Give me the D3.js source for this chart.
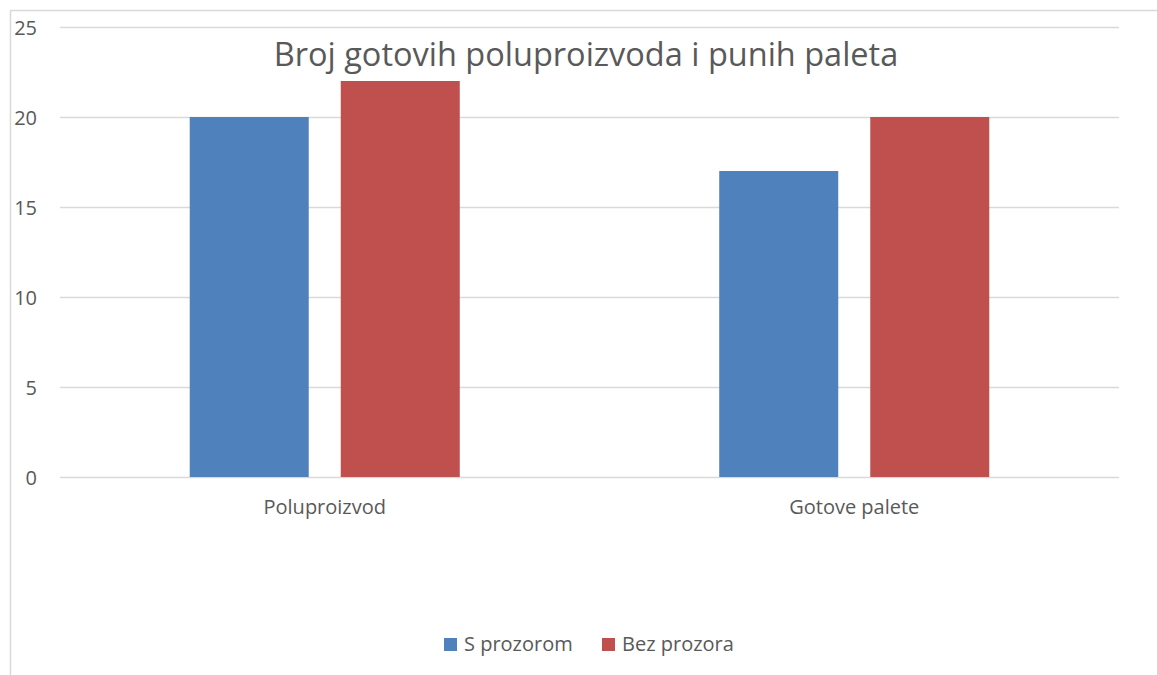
<!DOCTYPE html>
<html>
<head>
<meta charset="utf-8">
<script src="https://cdn.jsdelivr.net/npm/d3@7"></script>
<style>
  body { margin: 0; background: #fff; }
  text { font-family: "Open Sans", "Noto Sans", sans-serif; fill: #595959; }
</style>
</head>
<body>
<div id="chart"></div>
<script>
// data
const categories = ["Poluproizvod", "Gotove palete"]
const seriesNames = ["S prozorom", "Bez prozora"]
const sProzorom = [20, 17]
const bezProzora = [22, 20]
const yTicks = [0, 5, 10, 15, 20, 25]
const title = "Broj gotovih poluproizvoda i punih paleta"

const WIDTH = 1157
const HEIGHT = 675
const PLOT_LEFT = 60
const PLOT_RIGHT = 1119
const PLOT_TOP = 27
const PLOT_BOTTOM = 477
const COLORS = ["#4F81BD", "#C0504D"]
const GRID = "#D9D9D9"

const svg = d3.select("#chart").append("svg")
    .attr("width", WIDTH)
    .attr("height", HEIGHT)

// chart border (left and top visible in crop)
svg.append("rect")
    .attr("x", 10.5).attr("y", 10.5)
    .attr("width", WIDTH + 20).attr("height", HEIGHT + 20)
    .attr("fill", "none")
    .attr("stroke", GRID)
    .attr("stroke-width", 1.5)

const y = d3.scaleLinear()
    .domain([0, 25])
    .range([PLOT_BOTTOM, PLOT_TOP])

const x0 = d3.scaleBand()
    .domain(categories)
    .range([PLOT_LEFT, PLOT_RIGHT])
    .paddingInner(0.49)
    .paddingOuter(0.245)

const x1 = d3.scaleBand()
    .domain(seriesNames)
    .range([0, x0.bandwidth()])
    .paddingInner(0.212)
    .paddingOuter(0)

// gridlines
svg.append("g")
    .selectAll("line")
    .data(yTicks)
    .join("line")
    .attr("x1", PLOT_LEFT)
    .attr("x2", PLOT_RIGHT)
    .attr("y1", d => Math.round(y(d)) + 0.5)
    .attr("y2", d => Math.round(y(d)) + 0.5)
    .attr("stroke", GRID)
    .attr("stroke-width", 1.5)

// y axis labels
const yAxis = svg.append("g")
    .attr("transform", `translate(37,0)`)
    .call(d3.axisLeft(y).tickValues(yTicks).tickSize(0).tickPadding(0))
yAxis.select(".domain").remove()
yAxis.selectAll("text")
    .style("font-size", "20px")
    .attr("fill", "#595959")
    .attr("dy", "0.35em")

// bars
const rows = categories.map((c, i) => ({cat: c, vals: [sProzorom[i], bezProzora[i]]}))

svg.append("g")
    .selectAll("g")
    .data(rows)
    .join("g")
    .attr("transform", d => `translate(${x0(d.cat)},0)`)
    .selectAll("rect")
    .data(d => d.vals.map((v, j) => ({key: seriesNames[j], value: v, idx: j})))
    .join("rect")
    .attr("x", d => x1(d.key))
    .attr("y", d => y(d.value))
    .attr("width", x1.bandwidth())
    .attr("height", d => y(0) - y(d.value))
    .attr("fill", d => COLORS[d.idx])

// x axis labels
const xAxis = svg.append("g")
    .attr("transform", `translate(0,${PLOT_BOTTOM})`)
    .call(d3.axisBottom(x0).tickSize(0).tickPadding(23))
xAxis.select(".domain").remove()
xAxis.selectAll("text")
    .style("font-size", "20px")
    .attr("fill", "#595959")

// title
svg.append("text")
    .attr("x", 586)
    .attr("y", 66)
    .attr("text-anchor", "middle")
    .style("font-size", "32.5px")
    .text(title)

// legend
const legendX = [444, 602]
const legend = svg.append("g")
    .selectAll("g")
    .data(seriesNames)
    .join("g")
    .attr("transform", (d, i) => `translate(${legendX[i]},638)`)
legend.append("rect")
    .attr("width", 13).attr("height", 13)
    .attr("fill", (d, i) => COLORS[i])
legend.append("text")
    .attr("x", 20)
    .attr("y", 13)
    .style("font-size", "20px")
    .text(d => d)
</script>
</body>
</html>
